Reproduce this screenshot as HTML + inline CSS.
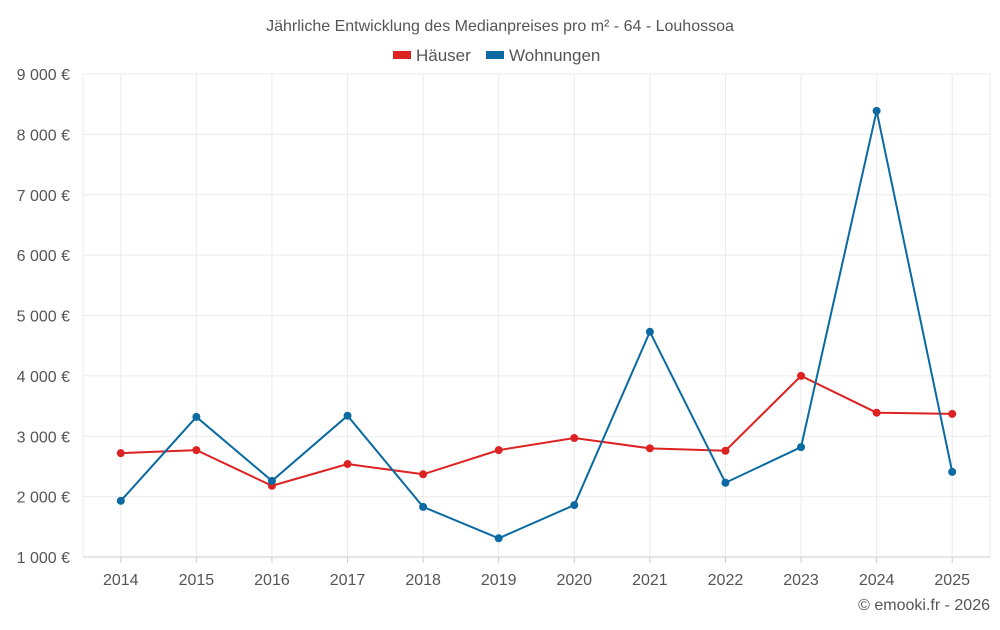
<!DOCTYPE html>
<html><head><meta charset="utf-8"><style>
body{margin:0;background:#fff;font-family:"Liberation Sans",sans-serif;}
svg text{font-family:"Liberation Sans",sans-serif;fill:#555;}
</style></head><body>
<svg id="chart" width="1000" height="625">
<text x="500" y="31" text-anchor="middle" font-size="16">Jährliche Entwicklung des Medianpreises pro m² - 64 - Louhossoa</text>
<g>
<rect x="393" y="51" width="18" height="8" fill="#dd2222"/>
<text x="416" y="61" font-size="17">Häuser</text>
<rect x="486" y="51" width="18" height="8" fill="#0a6aa1"/>
<text x="509" y="61" font-size="17">Wohnungen</text>
</g>
<g id="grid"></g><g id="axes"></g><g id="series"></g>
<text x="990" y="610" text-anchor="end" font-size="16">© emooki.fr - 2026</text>
</svg>
<script>
const years=["2014","2015","2016","2017","2018","2019","2020","2021","2022","2023","2024","2025"];
const hauser=[2720,2770,2180,2540,2370,2770,2970,2800,2760,4000,3390,3370];
const wohnungen=[1930,3320,2260,3340,1830,1310,1860,4730,2230,2820,8390,2410];
const yTicks=[1000,2000,3000,4000,5000,6000,7000,8000,9000];
const yTickLabels=["1 000 €","2 000 €","3 000 €","4 000 €","5 000 €","6 000 €","7 000 €","8 000 €","9 000 €"];
const L=83,R=990,T=74,B=557,yMin=1000,yMax=9000;
const band=(R-L)/years.length;
const x=i=>L+band*(i+0.5);
const y=v=>B-(v-yMin)/(yMax-yMin)*(B-T);
const NS="http://www.w3.org/2000/svg";
function mk(tag,attrs,parent){const e=document.createElementNS(NS,tag);for(const k in attrs)e.setAttribute(k,attrs[k]);parent.appendChild(e);return e;}
const grid=document.getElementById('grid'),axes=document.getElementById('axes'),ser=document.getElementById('series');
yTicks.forEach((t,i)=>{
 const l=mk('line',{x1:L,x2:R,y1:y(t),y2:y(t),stroke:i==0?'#ccc':'#ebebeb','stroke-width':1},grid);
 
 
 const tx=mk('text',{x:70,y:y(t)+6,'text-anchor':'end','font-size':16},axes);
 tx.textContent=yTickLabels[i];
 
 
});
[L,R].forEach(px=>{const l=mk('line',{x1:px,x2:px,y1:T,y2:B,stroke:'#ebebeb'},grid);
 
 });
years.forEach((yr,i)=>{
 const l=mk('line',{x1:x(i),x2:x(i),y1:T,y2:B,stroke:'#ebebeb'},grid);
 
 
 const tk=mk('line',{x1:x(i),x2:x(i),y1:B,y2:B+6,stroke:'#ccc'},axes);
 
 
 const tx=mk('text',{x:x(i),y:B+28,'text-anchor':'middle','font-size':16},axes);
 tx.textContent=yr;
 
 
});
function draw(vals,color,name){
 const p=mk('polyline',{points:vals.map((v,i)=>x(i)+','+y(v)).join(' '),fill:'none',stroke:color,'stroke-width':2},ser);
 
 
 vals.forEach((v,i)=>{const c=mk('circle',{cx:x(i),cy:y(v),r:4,fill:color},ser);
  
  });
}
draw(hauser,'#dd2222','hauser');
draw(wohnungen,'#0a6aa1','wohnungen');
</script>
</body></html>
